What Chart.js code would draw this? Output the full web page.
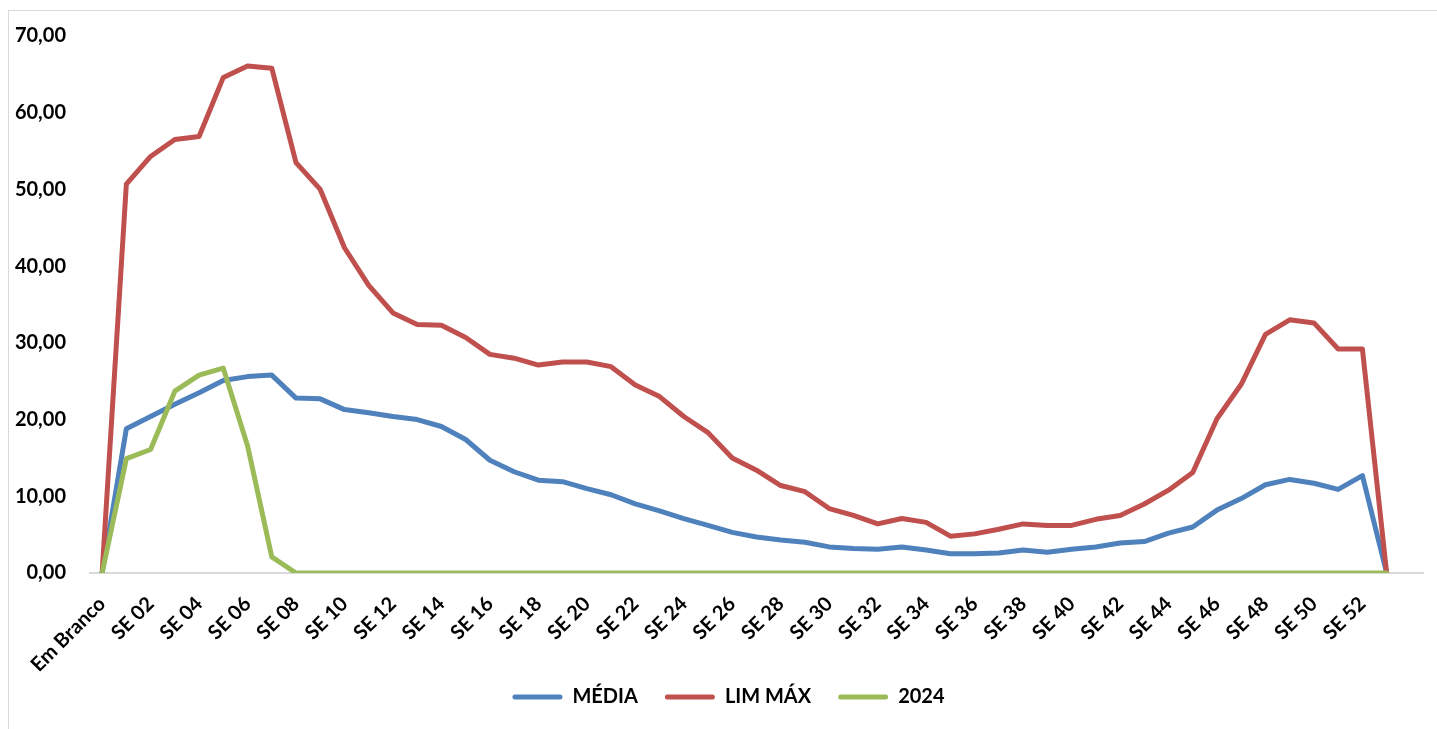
<!DOCTYPE html>
<html>
<head>
<meta charset="utf-8">
<script src="https://cdn.jsdelivr.net/npm/chart.js"></script>
<style>
  html, body { margin: 0; padding: 0; background: #fff; overflow: hidden; }
  #frame { position: absolute; left: 8px; top: 10px; width: 1460px; height: 760px; border: 1px solid #d9d9d9; }
  #wrap { position: absolute; left: 0; top: 0; width: 1437px; height: 729px; }
</style>
</head>
<body>
<div id="frame"></div>
<div id="wrap"><canvas id="c" width="1437" height="729"></canvas></div>
<script>
const categories = ['Em Branco',
  'SE 01','SE 02','SE 03','SE 04','SE 05','SE 06','SE 07','SE 08','SE 09','SE 10',
  'SE 11','SE 12','SE 13','SE 14','SE 15','SE 16','SE 17','SE 18','SE 19','SE 20',
  'SE 21','SE 22','SE 23','SE 24','SE 25','SE 26','SE 27','SE 28','SE 29','SE 30',
  'SE 31','SE 32','SE 33','SE 34','SE 35','SE 36','SE 37','SE 38','SE 39','SE 40',
  'SE 41','SE 42','SE 43','SE 44','SE 45','SE 46','SE 47','SE 48','SE 49','SE 50',
  'SE 51','SE 52','SE 53',''];

const media = [0, 18.8, 20.4, 22.0, 23.5, 25.1, 25.6, 25.8, 22.8, 22.7, 21.3, 20.9, 20.4, 20.0, 19.1, 17.4,
  14.7, 13.2, 12.1, 11.9, 11.0, 10.2, 9.0, 8.1, 7.1, 6.2, 5.3, 4.7, 4.3, 4.0, 3.4, 3.2, 3.1, 3.4, 3.0, 2.5,
  2.5, 2.6, 3.0, 2.7, 3.1, 3.4, 3.9, 4.1, 5.2, 6.0, 8.2, 9.7, 11.5, 12.2, 11.7, 10.9, 12.7, 0];

const limMax = [0, 50.7, 54.3, 56.5, 56.9, 64.6, 66.1, 65.8, 53.5, 50.0, 42.4, 37.5, 33.9, 32.4, 32.3, 30.7,
  28.5, 28.0, 27.1, 27.5, 27.5, 26.9, 24.5, 23.0, 20.4, 18.3, 15.0, 13.4, 11.4, 10.6, 8.4, 7.5, 6.4, 7.1, 6.6, 4.8,
  5.1, 5.7, 6.4, 6.2, 6.2, 7.0, 7.5, 9.0, 10.8, 13.1, 20.1, 24.6, 31.1, 33.0, 32.6, 29.2, 29.2, 0];

const ano2024 = [0, 14.9, 16.1, 23.7, 25.8, 26.7, 16.6, 2.1,
  0, 0, 0, 0, 0, 0, 0, 0, 0, 0, 0, 0, 0, 0, 0, 0, 0, 0, 0, 0, 0, 0, 0, 0, 0, 0, 0, 0, 0, 0, 0, 0,
  0, 0, 0, 0, 0, 0, 0, 0, 0, 0, 0, 0, 0, 0];

const yTicks = [0, 10, 20, 30, 40, 50, 60, 70];

const seriesNames = ['MÉDIA', 'LIM MÁX', '2024'];
const seriesColors = ['#4F81BD', '#C0504D', '#9BBB59'];
const seriesData = [media, limMax, ano2024];

const FONT = 'Lato, "Open Sans", sans-serif';

const datasets = seriesData.map((d, i) => ({
  label: seriesNames[i],
  data: d,
  borderColor: seriesColors[i],
  backgroundColor: seriesColors[i],
  borderWidth: 5,
  pointRadius: 0,
  pointHoverRadius: 0,
  tension: 0,
  fill: false,
  borderJoinStyle: 'round',
  borderCapStyle: 'round',
  order: 3 - i
}));

new Chart(document.getElementById('c'), {
  type: 'line',
  data: { labels: categories, datasets: datasets },
  options: {
    responsive: false,
    devicePixelRatio: 1,
    animation: false,
    layout: { padding: { left: 34, right: 14, top: 22, bottom: 12 } },
    plugins: {
      tooltip: { enabled: false },
      legend: {
        position: 'bottom',
        labels: {
          color: '#000',
          font: { family: FONT, size: 20, weight: 'bold' },
          boxWidth: 50,
          boxHeight: 5,
          padding: 27,
          useBorderRadius: true,
          borderRadius: 2.5,
          generateLabels: (chart) => chart.data.datasets.map((ds, i) => ({
            text: ds.label,
            fillStyle: ds.borderColor,
            strokeStyle: ds.borderColor,
            lineWidth: 0,
            hidden: false,
            datasetIndex: i,
            fontColor: '#000',
            borderRadius: 2.5
          }))
        }
      }
    },
    scales: {
      x: {
        offset: true,
        grid: { display: false, drawTicks: false },
        border: { display: true, color: '#d9d9d9', width: 2 },
        afterFit: (scale) => {
          scale.paddingLeft = 0; scale.paddingRight = 0; scale.height = 87;
          scale._computeLabelArea = () => undefined;
        },
        ticks: {
          color: '#000',
          font: { family: FONT, size: 20, weight: 'bold' },
          autoSkip: false,
          maxRotation: 45,
          minRotation: 45,
          padding: 19,
          callback: function (v, idx) { return idx % 2 === 0 ? categories[idx] : ''; }
        }
      },
      y: {
        min: 0,
        max: 70,
        afterBuildTicks: (axis) => { axis.ticks = yTicks.map(v => ({ value: v })); },
        afterFit: (scale) => {
          scale.width = 56;
          scale._computeLabelArea = () => undefined;
        },
        grid: { display: false, drawTicks: false },
        border: { display: false },
        ticks: {
          color: '#000',
          font: { family: FONT, size: 20, weight: 'bold' },
          padding: 24,
          callback: (v) => v.toFixed(2).replace('.', ',')
        }
      }
    }
  }
});
</script>
</body>
</html>
